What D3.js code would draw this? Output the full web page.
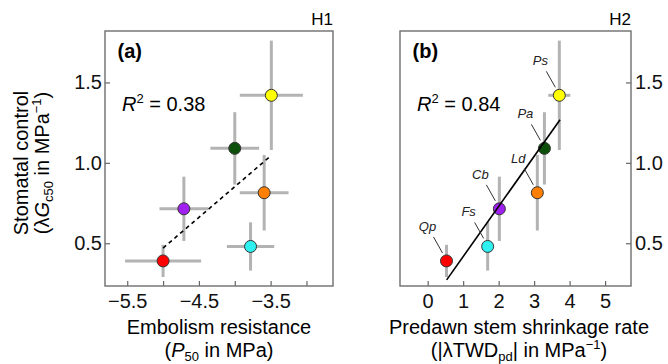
<!DOCTYPE html>
<html>
<head>
<meta charset="utf-8">
<script src="https://cdn.jsdelivr.net/npm/d3@7"></script>
<style>
  body { margin: 0; background: #fff; }
  svg { font-family: Arial, "Liberation Sans", sans-serif; }
</style>
</head>
<body>
<svg width="668" height="364"></svg>
<script>
// species, in order Qp, Fs, Cb, Ld, Pa, Ps
const species = ["Qp", "Fs", "Cb", "Ld", "Pa", "Ps"];
const colors = ["#ff0000", "#2ef0f0", "#a020f0", "#ff7f00", "#0b4f0b", "#ffff00"];

// stomatal control (lambda Gc50)
const gc50 = [0.39, 0.48, 0.714, 0.814, 1.09, 1.42];
const gc50Err = [0.1, 0.15, 0.2, 0.235, 0.225, 0.34];

// panel a: P50
const p50 = [-5.0, -3.78, -4.71, -3.59, -4.0, -3.49];
const p50Err = [0.53, 0.33, 0.34, 0.34, 0.34, 0.44];

// panel b: predawn stem shrinkage rate
const twd = [0.53, 1.69, 2.02, 3.09, 3.29, 3.71];
const twdErr = [0.1, 0.12, 0.12, 0.12, 0.12, 0.31];

// fitted lines (end points)
const fitA = [[-5.0, 0.47], [-3.52, 1.035]];
const fitB = [[0.535, 0.272], [3.73, 1.268]];

const yTicks = [0.5, 1.0, 1.5];
const xTicksA = [-5.5, -5, -4.5, -4, -3.5, -3];
const xLabelsA = [-5.5, -4.5, -3.5];
const xTicksB = [0, 1, 2, 3, 4, 5];

const svg = d3.select("svg");
const plotTop = 31, plotBottom = 286;

const y = d3.scaleLinear().domain([0.234, 1.82]).range([plotBottom, plotTop]);
const xA = d3.scaleLinear().domain([-5.81, -2.63]).range([105, 333]);
const xB = d3.scaleLinear().domain([-0.78, 5.73]).range([400, 631]);

const fmtMinus = v => d3.format(".1f")(v).replace("-", "\u2212");

function panel(x, xv, xe, fit, dashed, opts) {
  const g = svg.append("g");
  const [x0, x1] = x.range();

  // axes (ticks pointing inward)
  const xAxis = d3.axisBottom(x).tickValues(opts.xTicks).tickSize(-5).tickPadding(8)
    .tickFormat(v => opts.xLabels.includes(v) ? opts.xFmt(v) : "");
  g.append("g").attr("transform", `translate(0,${plotBottom})`).call(xAxis);

  const yAxis = (opts.right ? d3.axisRight(y) : d3.axisLeft(y))
    .tickValues(yTicks).tickSize(-5).tickPadding(opts.right ? 4 : 3)
    .tickFormat(d3.format(".1f"));
  g.append("g").attr("transform", `translate(${opts.right ? x1 : x0},0)`).call(yAxis);

  g.selectAll(".domain").remove();
  g.selectAll(".tick line").attr("stroke", "#666").attr("stroke-width", 1.2);
  g.selectAll(".tick text").attr("font-size", 20).attr("fill", "#111")
    .attr("font-family", "Arial, 'Liberation Sans', sans-serif");

  g.append("rect")
    .attr("x", x0).attr("y", plotTop)
    .attr("width", x1 - x0).attr("height", plotBottom - plotTop)
    .attr("fill", "none").attr("stroke", "#6e6e6e").attr("stroke-width", 1.4);

  // error bars
  const eb = g.append("g").attr("stroke", "#b3b3b3").attr("stroke-width", 3);
  species.forEach((s, i) => {
    eb.append("line")
      .attr("x1", x(xv[i] - xe[i])).attr("x2", x(xv[i] + xe[i]))
      .attr("y1", y(gc50[i])).attr("y2", y(gc50[i]));
    eb.append("line")
      .attr("x1", x(xv[i])).attr("x2", x(xv[i]))
      .attr("y1", y(gc50[i] - gc50Err[i])).attr("y2", y(gc50[i] + gc50Err[i]));
  });

  // points
  g.append("g").selectAll("circle")
    .data(species)
    .join("circle")
    .attr("cx", (d, i) => x(xv[i]))
    .attr("cy", (d, i) => y(gc50[i]))
    .attr("r", 6)
    .attr("fill", (d, i) => colors[i])
    .attr("stroke", "#333")
    .attr("stroke-width", 1);

  // fit line
  g.append("line")
    .attr("x1", x(fit[0][0])).attr("y1", y(fit[0][1]))
    .attr("x2", x(fit[1][0])).attr("y2", y(fit[1][1]))
    .attr("stroke", "#000").attr("stroke-width", 1.6)
    .attr("stroke-dasharray", dashed ? "4,3.5" : null);

  // panel letter, R2, hypothesis label
  g.append("text").attr("x", x0 + 12.5).attr("y", 58)
    .attr("font-size", 20).attr("font-weight", "bold").text(opts.letter);

  const r = g.append("text").attr("x", x0 + 17).attr("y", 111).attr("font-size", 20);
  r.append("tspan").attr("font-style", "italic").text("R");
  r.append("tspan").attr("font-size", 13).attr("dy", -8).text("2");
  r.append("tspan").attr("dy", 8).text(" = " + opts.r2);

  g.append("text").attr("x", x1).attr("y", 25)
    .attr("text-anchor", "end").attr("font-size", 17).text(opts.h);

  return g;
}

const ga = panel(xA, p50, p50Err, fitA, true, {
  xTicks: xTicksA, xLabels: xLabelsA, xFmt: fmtMinus,
  letter: "(a)", r2: "0.38", h: "H1", right: false
});

const gb = panel(xB, twd, twdErr, fitB, false, {
  xTicks: xTicksB, xLabels: xTicksB, xFmt: d3.format("d"),
  letter: "(b)", r2: "0.84", h: "H2", right: true
});

// species labels with leader lines in panel b
species.forEach((s, i) => {
  const px = xB(twd[i]), py = y(gc50[i]);
  gb.append("line")
    .attr("x1", px - 13).attr("y1", py - 24)
    .attr("x2", px - 4).attr("y2", py - 8)
    .attr("stroke", "#333").attr("stroke-width", 1);
  gb.append("text")
    .attr("x", px - 19).attr("y", py - 30)
    .attr("text-anchor", "middle")
    .attr("font-size", 13).attr("font-style", "italic")
    .attr("fill", "#222")
    .text(s);
});

// axis titles
svg.append("text").attr("x", 219).attr("y", 334)
  .attr("text-anchor", "middle").attr("font-size", 20).text("Embolism resistance");
const titleA2 = svg.append("text").attr("x", 219).attr("y", 357)
  .attr("text-anchor", "middle").attr("font-size", 20);
titleA2.append("tspan").text("(");
titleA2.append("tspan").attr("font-style", "italic").text("P");
titleA2.append("tspan").attr("font-size", 13).attr("dy", 4).text("50");
titleA2.append("tspan").attr("dy", -4).text(" in MPa)");

svg.append("text").attr("x", 519).attr("y", 334)
  .attr("text-anchor", "middle").attr("font-size", 20).text("Predawn stem shrinkage rate");
const titleB2 = svg.append("text").attr("x", 519).attr("y", 357)
  .attr("text-anchor", "middle").attr("font-size", 20);
titleB2.append("tspan").text("(|\u03BBTWD");
titleB2.append("tspan").attr("font-size", 13).attr("dy", 4).text("pd");
titleB2.append("tspan").attr("dy", -4).text("| in MPa");
titleB2.append("tspan").attr("font-size", 13).attr("dy", -8).text("\u22121");
titleB2.append("tspan").attr("dy", 8).text(")");

svg.append("text")
  .attr("transform", "translate(28,163) rotate(-90)")
  .attr("text-anchor", "middle").attr("font-size", 20).text("Stomatal control");
const yt2 = svg.append("text")
  .attr("transform", "translate(49,163) rotate(-90)")
  .attr("text-anchor", "middle").attr("font-size", 20);
yt2.append("tspan").text("(\u03BB");
yt2.append("tspan").attr("font-style", "italic").text("G");
yt2.append("tspan").attr("font-size", 13).attr("dy", 4).text("c50");
yt2.append("tspan").attr("dy", -4).text(" in MPa");
yt2.append("tspan").attr("font-size", 13).attr("dy", -8).text("\u22121");
yt2.append("tspan").attr("dy", 8).text(")");
</script>
</body>
</html>
